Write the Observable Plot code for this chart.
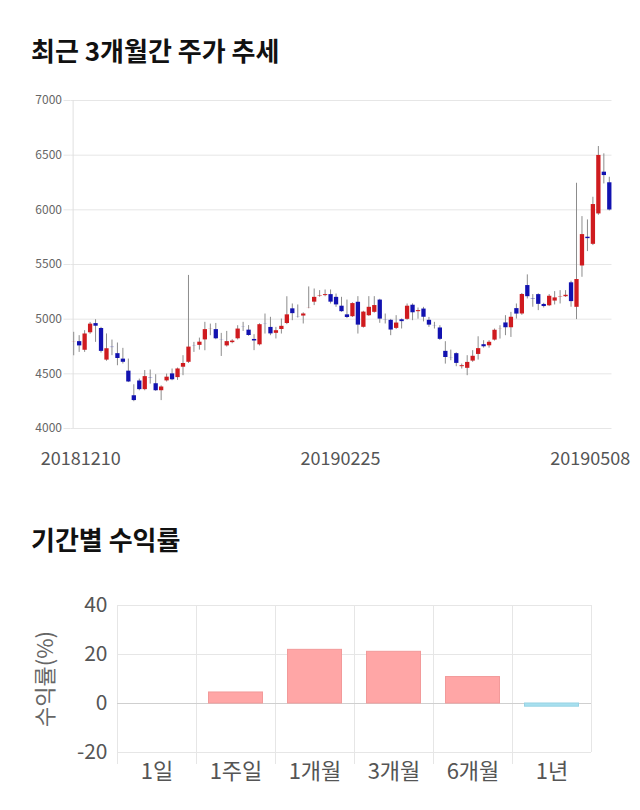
<!DOCTYPE html>
<html><head><meta charset="utf-8">
<script src="https://cdn.jsdelivr.net/npm/d3@7"></script>
<script src="https://cdn.jsdelivr.net/npm/@observablehq/plot@0.6"></script>
<style>
body{margin:0;background:#fff;font-family:"Noto Sans CJK KR",sans-serif;}
#wrap{position:relative;width:640px;height:810px;overflow:hidden;}
.title{position:absolute;left:31px;font-weight:bold;color:#111;white-space:nowrap;z-index:2;}
#t1{top:32px;font-size:26px;line-height:36px;}
#t2{top:521px;font-size:26px;line-height:36px;}
#c1{position:absolute;left:0;top:0;z-index:1;}
#c2{position:absolute;left:0;top:590px;z-index:1;}
</style></head><body>
<div id="wrap">
<div class="title" id="t1">최근 3개월간 주가 추세</div>
<div class="title" id="t2">기간별 수익률</div>
<div id="c1"></div><div id="c2"></div>
</div>
<script>
// ---- Daily candles, 2018-12-10 .. 2019-05-08 (99 trading days)
const openP  = [4788,4800,4710,4870,4965,4920,4620,4748,4690,4640,4530,4305,4440,4350,4468,4415,4340,4430,4505,4460,
                4555,4600,4757,4755,4805,4900,4910,4818,4750,4780,4815,4930,4905,4820,4760,4960,4930,4865,4900,4955,
                5100,5022,5023,5098,5150,5205,5210,5230,5205,5124,5045,5017,5160,4920,5026,5057,5180,4998,4995,4910,
                5000,4993,5133,5063,5098,4995,4946,4925,4711,4650,4690,4560,4545,4611,4672,4772,4751,4803,4902,4971,
                4916,5102,5042,5313,5188,5230,5140,5117,5160,5196,5200,5338,5103,5481,5755,5679,5957,6350,6253];
const highP  = [4880,4849,4895,4970,4995,4925,4865,4809,4782,4733,4635,4400,4452,4530,4535,4492,4390,4498,4544,4553,
                4666,5400,4788,4827,4971,4955,4961,4870,4888,4812,4940,4971,4941,4858,4958,5047,5017,4925,5001,5205,
                5139,5130,5058,5295,5276,5261,5267,5267,5230,5200,5175,5150,5206,5072,5206,5206,5182,5047,4998,5032,
                5002,5139,5140,5102,5108,5016,4971,4940,4794,4717,4692,4589,4666,4712,4839,4803,4803,4910,4940,5032,
                5062,5139,5235,5405,5225,5232,5145,5225,5252,5261,5261,5347,6243,5938,5908,6115,6579,6512,6298];
const lowP   = [4665,4696,4696,4862,4788,4690,4615,4666,4574,4590,4420,4245,4345,4345,4406,4339,4255,4425,4437,4440,
                4483,4595,4696,4717,4711,4849,4812,4659,4745,4775,4810,4888,4843,4712,4755,4864,4849,4819,4864,4950,
                4986,5010,4956,5095,5124,5200,5205,5139,5108,5063,5005,5015,4864,4918,5024,5055,4962,4956,4849,4905,
                4910,4990,4986,5000,4975,4925,4910,4805,4589,4620,4565,4544,4483,4605,4626,4735,4735,4800,4818,4849,
                4833,5001,5035,5185,5109,5078,5102,5115,5130,5139,5198,5109,4996,5383,5618,5673,5950,6237,5990];
const closeP = [4800,4750,4870,4960,4930,4700,4735,4735,4635,4600,4420,4250,4350,4480,4455,4340,4385,4475,4440,4550,
                4600,4750,4745,4795,4910,4912,4815,4806,4800,4805,4915,4920,4845,4795,4955,4950,4860,4900,4940,5045,
                5045,5012,5053,5108,5205,5220,5230,5150,5125,5063,5010,5148,4940,5070,5114,5130,4995,4988,4895,4970,
                4972,5124,5053,5084,5012,4940,4936,4810,4644,4638,4590,4580,4610,4666,4736,4742,4794,4904,4912,4916,
                5023,5041,5231,5200,5180,5130,5110,5215,5200,5204,5224,5155,5368,5779,5731,6054,6503,6308,5993];
const priceTicks = [4000,4500,5000,5500,6000,6500,7000];
const dateTickIndex = [0, 49, 98];
const dateTickLabels = ["20181210","20190225","20190508"];

// ---- Period returns
const periods = ["1일","1주일","1개월","3개월","6개월","1년"];
const returns = [0, 4.5, 21.9, 21.1, 10.8, -1.3];
const returnTicks = [-20, 0, 20, 40];

const UP = "#cf1b1f", DOWN = "#1212b0";
const candles = openP.map((o, i) => ({
  i, o, h: highP[i], l: lowP[i], c: closeP[i],
  lo: Math.min(o, closeP[i]), hi: Math.max(o, closeP[i]),
  col: closeP[i] >= o ? UP : DOWN
}));
const idx = candles.map(d => d.i);
const font = "'Noto Sans CJK KR', sans-serif";

const priceChart = Plot.plot({
  width: 640, height: 480,
  marginTop: 100, marginBottom: 52, marginLeft: 70.5, marginRight: 28.5,
  style: {fontFamily: font, background: "transparent", overflow: "visible"},
  x: {type: "point", domain: idx, padding: 0, insetLeft: 2.7, insetRight: 2.7},
  y: {domain: [4000, 7000]},
  marks: [
    Plot.gridY(priceTicks, {stroke: "#e6e6e6", strokeOpacity: 1}),
    Plot.ruleX([0], {stroke: "#e0e0e0", dx: -0.6}),
    Plot.axisY(priceTicks, {tickSize: 7, tickPadding: 2, stroke: "#e6e6e6", fill: "#666", fontSize: 12, tickFormat: d => String(d), label: null}),
    Plot.axisX([dateTickIndex[0]], {tickSize: 0, tickPadding: 24, fontSize: 18, fill: "#555", dx: 7, tickFormat: () => dateTickLabels[0], label: null}),
    Plot.axisX([dateTickIndex[1]], {tickSize: 0, tickPadding: 24, fontSize: 18, fill: "#555", dx: -1, tickFormat: () => dateTickLabels[1], label: null}),
    Plot.axisX([dateTickIndex[2]], {tickSize: 0, tickPadding: 24, fontSize: 18, fill: "#555", dx: -19, tickFormat: () => dateTickLabels[2], label: null}),
    Plot.ruleX(candles, {x: "i", y1: "l", y2: "h", stroke: "#8c8c8c", strokeWidth: 1}),
    Plot.ruleX(candles, {x: "i", y1: "lo", y2: "hi", stroke: "col", strokeWidth: 4.3, insetTop: -0.6, insetBottom: -0.6})
  ]
});
document.getElementById("c1").appendChild(priceChart);

const step = 79;
const returnChart = Plot.plot({
  width: 640, height: 200,
  marginTop: 15, marginBottom: 38, marginLeft: 117, marginRight: 49,
  style: {fontFamily: font, background: "transparent", overflow: "visible"},
  x: {type: "band", domain: periods, padding: 0},
  y: {domain: [-20, 40]},
  marks: [
    Plot.gridY(returnTicks, {stroke: "#e6e6e6", strokeOpacity: 1}),
    Plot.ruleX(periods, {stroke: "#e6e6e6", dx: -step / 2, insetBottom: -12}),
    Plot.ruleX([periods[periods.length - 1]], {stroke: "#e6e6e6", dx: step / 2}),
    Plot.ruleY([0], {stroke: "#cfcfcf"}),
    Plot.barY(periods.map((p, k) => ({p, v: returns[k]})), {
      x: "p", y: "v",
      fill: d => d.v >= 0 ? "#ffa6a6" : "#a8e0ef",
      stroke: d => d.v >= 0 ? "#f29a9a" : "#96d2e4",
      strokeWidth: 1,
      insetLeft: 12.5, insetRight: 12.5
    }),
    Plot.axisY(returnTicks, {tickSize: 0, tickPadding: 10, fontSize: 21, fill: "#555", tickFormat: d => String(d), label: null}),
    Plot.axisX(periods, {tickSize: 0, tickPadding: 11, fontSize: 22, fill: "#555", label: null}),
    Plot.text(["수익률(%)"], {frameAnchor: "left", textAnchor: "middle", rotate: -90, dx: -72, fontSize: 22, fill: "#666"})
  ]
});
document.getElementById("c2").appendChild(returnChart);
</script>
</body></html>
